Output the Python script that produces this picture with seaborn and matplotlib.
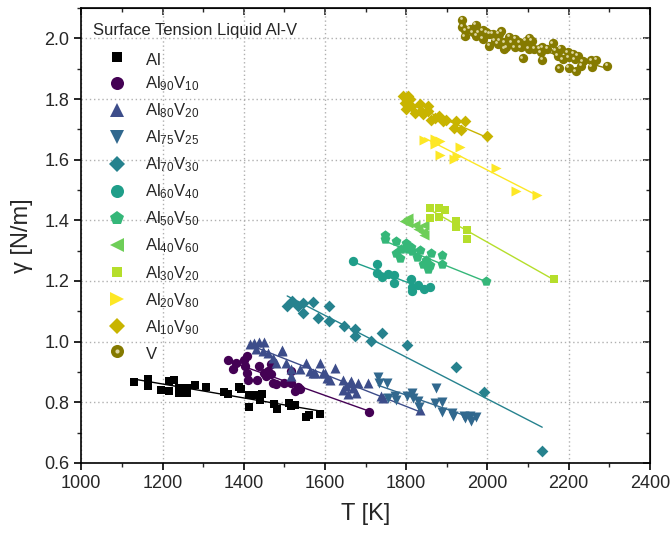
import numpy as np
import pandas as pd
import matplotlib
matplotlib.use('Agg')
from matplotlib import pyplot as plt
from matplotlib.lines import Line2D
from matplotlib.legend_handler import HandlerTuple
from matplotlib.ticker import MultipleLocator
import matplotlib.transforms as mtransforms
import seaborn as sns

# ---- data (T in K, gamma in N/m) ----
labels = [r'Al$_{\,}$', r'Al$_{90}$V$_{10}$', r'Al$_{80}$V$_{20}$', r'Al$_{75}$V$_{25}$',
          r'Al$_{70}$V$_{30}$', r'Al$_{60}$V$_{40}$', r'Al$_{50}$V$_{50}$',
          r'Al$_{40}$V$_{60}$', r'Al$_{30}$V$_{20}$', r'Al$_{20}$V$_{80}$',
          r'Al$_{10}$V$_{90}$', r'V$_{\,}$']

T_al = [1129, 1163, 1163, 1196, 1216, 1228, 1216, 1241, 1241, 1261, 1261, 1280, 1308,
        1351, 1360, 1389, 1394, 1412, 1412, 1431, 1445, 1441, 1474, 1482, 1512, 1516,
        1525, 1553, 1560, 1587]
g_al = [0.866, 0.878, 0.853, 0.842, 0.870, 0.875, 0.837, 0.846, 0.829, 0.846, 0.829,
        0.857, 0.850, 0.835, 0.828, 0.850, 0.845, 0.823, 0.783, 0.823, 0.828, 0.806,
        0.795, 0.778, 0.796, 0.787, 0.790, 0.750, 0.759, 0.762]

T_90 = [1361, 1374, 1382, 1400, 1407, 1403, 1408, 1411, 1433, 1438, 1449, 1456, 1460,
        1468, 1468, 1472, 1480, 1499, 1517, 1516, 1526, 1534, 1538, 1708]
g_90 = [0.939, 0.909, 0.928, 0.939, 0.953, 0.918, 0.898, 0.875, 0.875, 0.918, 0.898,
        0.886, 0.903, 0.892, 0.925, 0.864, 0.859, 0.864, 0.864, 0.903, 0.837, 0.851,
        0.845, 0.768]

T_80 = [1415, 1425, 1438, 1450, 1431, 1448, 1460, 1472, 1493, 1480, 1505, 1517, 1517,
        1538, 1554, 1562, 1575, 1587, 1595, 1604, 1624, 1644, 1653, 1665, 1669, 1495,
        1571, 1600, 1612, 1644, 1661, 1681, 1706, 1657, 1677, 1739, 1743, 1833]
g_80 = [0.992, 0.997, 0.999, 0.999, 0.975, 0.969, 0.964, 0.947, 0.969, 0.931, 0.931,
        0.909, 0.886, 0.909, 0.931, 0.903, 0.898, 0.931, 0.898, 0.881, 0.914, 0.875,
        0.853, 0.870, 0.848, 0.973, 0.898, 0.898, 0.875, 0.842, 0.864, 0.864, 0.864,
        0.826, 0.831, 0.822, 0.815, 0.776]

T_75 = [1731, 1733, 1753, 1755, 1773, 1776, 1802, 1815, 1817, 1829, 1832, 1873, 1870,
        1887, 1887, 1914, 1915, 1942, 1956, 1959, 1973, 1946]
g_75 = [0.883, 0.862, 0.864, 0.815, 0.820, 0.809, 0.820, 0.831, 0.815, 0.803, 0.785,
        0.848, 0.798, 0.800, 0.767, 0.765, 0.756, 0.756, 0.756, 0.737, 0.752, 0.748]

T_70 = [1507, 1520, 1534, 1545, 1545, 1571, 1583, 1609, 1609, 1646, 1675, 1673, 1714,
        1741, 1802, 1922, 1991, 2135]
g_70 = [1.117, 1.135, 1.119, 1.128, 1.094, 1.132, 1.077, 1.117, 1.067, 1.052, 1.041,
        1.019, 1.002, 1.028, 0.988, 0.916, 0.835, 0.640]

T_60 = [1669, 1727, 1727, 1741, 1755, 1770, 1770, 1813, 1815, 1815, 1829, 1845, 1858]
g_60 = [1.265, 1.257, 1.227, 1.213, 1.224, 1.220, 1.194, 1.205, 1.180, 1.168, 1.187,
        1.174, 1.180]

T_50 = [1749, 1749, 1774, 1774, 1788, 1786, 1800, 1804, 1813, 1815, 1826, 1833, 1841,
        1849, 1854, 1858, 1862, 1889, 1889, 1997]
g_50 = [1.353, 1.337, 1.332, 1.292, 1.307, 1.276, 1.326, 1.307, 1.312, 1.298, 1.279,
        1.301, 1.257, 1.268, 1.238, 1.251, 1.292, 1.287, 1.257, 1.200]

T_40 = [1794, 1804, 1804, 1821, 1829, 1845, 1841, 1845]
g_40 = [1.397, 1.406, 1.390, 1.386, 1.373, 1.386, 1.362, 1.353]

T_30 = [1859, 1859, 1882, 1882, 1895, 1923, 1923, 1950, 1950, 2163]
g_30 = [1.439, 1.406, 1.439, 1.412, 1.434, 1.397, 1.379, 1.367, 1.338, 1.207]

T_20 = [1845, 1870, 1872, 1884, 1884, 1919, 1925, 1932, 2020, 2071, 2123]
g_20 = [1.666, 1.669, 1.652, 1.661, 1.614, 1.603, 1.611, 1.641, 1.574, 1.498, 1.482]

T_10 = [1792, 1804, 1810, 1796, 1800, 1813, 1821, 1833, 1837, 1841, 1854, 1854, 1862,
        1870, 1882, 1890, 1899, 1922, 1919, 1935, 1944, 1999]
g_10 = [1.810, 1.810, 1.799, 1.788, 1.766, 1.777, 1.755, 1.782, 1.760, 1.749, 1.777,
        1.760, 1.732, 1.738, 1.744, 1.727, 1.732, 1.727, 1.705, 1.699, 1.727, 1.677]

T_v = [1938, 1938, 1946, 1944, 1956, 1971, 1973, 1979, 1989, 1989, 2005, 2005, 2014,
       2018, 2028, 2034, 2030, 2042, 2042, 2054, 2059, 2067, 2069, 2079, 2083, 2087,
       2095, 2103, 2110, 2102, 2116, 2128, 2135, 2135, 2148, 2161, 2169, 2173, 2177,
       2181, 2186, 2198, 2200, 2200, 2212, 2216, 2218, 2223, 2231, 2235, 2256, 2258,
       2268, 2295, 1964, 1997, 2026, 2047, 2131]
g_v = [2.062, 2.037, 2.026, 2.007, 2.031, 2.044, 2.009, 2.020, 2.026, 1.998, 2.014,
       1.976, 2.014, 1.992, 2.014, 2.023, 1.992, 1.987, 1.965, 2.005, 1.987, 1.970,
       1.998, 1.987, 1.970, 1.934, 1.992, 2.001, 1.992, 1.965, 1.965, 1.965, 1.970,
       1.929, 1.965, 1.984, 1.959, 1.943, 1.901, 1.965, 1.931, 1.954, 1.902, 1.937,
       1.948, 1.931, 1.891, 1.943, 1.909, 1.924, 1.928, 1.906, 1.930, 1.909, 2.020,
       2.020, 1.981, 1.970, 1.954]

temps = [T_al, T_90, T_80, T_75, T_70, T_60, T_50, T_40, T_30, T_20, T_10, T_v]
gammas = [g_al, g_90, g_80, g_75, g_70, g_60, g_50, g_40, g_30, g_20, g_10, g_v]

colors = ['#000000', '#440154', '#3d4d8a', '#31688e', '#26828e', '#1f9e89',
          '#35b779', '#6ece58', '#b5de2b', '#fde725', '#c8b400', '#857a00']
markers = ['s', 'o', '^', 'v', 'D', 'o', 'p', '<', 's', '>', 'D', 'o']
sizes = [32, 45, 52, 52, 36, 45, 55, 52, 32, 52, 36, 45]

df = pd.concat([pd.DataFrame({'T': t, 'g': g, 'alloy': lab})
                for t, g, lab in zip(temps, gammas, labels)], ignore_index=True)

sns.set_style('white')
plt.rcParams['font.family'] = ['Liberation Sans', 'DejaVu Sans']
plt.rcParams['mathtext.fontset'] = 'custom'
plt.rcParams['mathtext.rm'] = 'Liberation Sans'
plt.rcParams['mathtext.it'] = 'Liberation Sans'

fig = plt.figure(figsize=(6.72, 5.37), dpi=100)
ax = fig.add_axes([0.121, 0.138, 0.846, 0.847])

# fit lines first, under the points
for lab, c in zip(labels, colors):
    sns.regplot(x='T', y='g', data=df[df['alloy'] == lab], scatter=False, ci=None,
                truncate=True, ax=ax, line_kws=dict(color=c, lw=1, zorder=2))

for lab, c, m, s in zip(labels, colors, markers, sizes):
    sub = df[df['alloy'] == lab]
    sns.scatterplot(x='T', y='g', data=sub, marker=m, color=c, s=s, linewidth=0,
                    ax=ax, zorder=3)

# glossy highlight for the V spheres
hl = mtransforms.offset_copy(ax.transData, fig=fig, x=-1.2, y=1.2, units='points')
sub = df[df['alloy'] == labels[-1]]
ax.scatter(sub['T'], sub['g'], s=4, color='#ddd6a0', linewidth=0, transform=hl, zorder=4)

ax.set_xlim(1000, 2400)
ax.set_ylim(0.6, 2.1)
ax.xaxis.set_major_locator(MultipleLocator(200))
ax.xaxis.set_minor_locator(MultipleLocator(100))
ax.yaxis.set_major_locator(MultipleLocator(0.2))
ax.yaxis.set_minor_locator(MultipleLocator(0.1))
ax.set_yticks(np.arange(0.6, 2.01, 0.2))
ax.set_yticklabels([f'{v:.1f}' for v in np.arange(0.6, 2.01, 0.2)])
ax.grid(True, which='major', color='#b0b0b0', ls=(0, (1, 2)), lw=1)
ax.tick_params(which='major', direction='out', length=5, width=1.2, labelsize=13,
               color='black', bottom=True, left=True)
ax.tick_params(which='minor', direction='out', length=3, width=1, bottom=True, left=True)
for sp in ax.spines.values():
    sp.set_color('black')
    sp.set_linewidth(1.2)

top = ax.secondary_xaxis('top')
top.xaxis.set_major_locator(MultipleLocator(200))
top.xaxis.set_minor_locator(MultipleLocator(100))
top.tick_params(which='major', direction='in', length=5, width=1.2, labeltop=False)
top.tick_params(which='minor', direction='in', length=3, width=1)
right = ax.secondary_yaxis('right')
right.yaxis.set_major_locator(MultipleLocator(0.2))
right.yaxis.set_minor_locator(MultipleLocator(0.1))
right.tick_params(which='major', direction='in', length=5, width=1.2, labelright=False)
right.tick_params(which='minor', direction='in', length=3, width=1)

ax.set_xlabel('T [K]', fontsize=17, labelpad=8)
ax.set_ylabel('γ [N/m]', fontsize=17, labelpad=8)

handles = []
for lab, c, m, s in zip(labels, colors, markers, sizes):
    h = Line2D([], [], ls='none', marker=m, color=c, markersize=np.sqrt(s) * 1.4, mew=0)
    if lab == labels[-1]:
        h = (h, Line2D([], [], ls='none', marker='o', color='#ddd6a0', markersize=3,
                       mew=0))
    handles.append(h)

ax.text(0.02, 0.951, 'Surface Tension Liquid Al-V', transform=ax.transAxes,
        fontsize=12, ha='left', va='center')
leg = ax.legend(handles, labels, loc='upper left', bbox_to_anchor=(0.0244, 0.905),
                frameon=False, fontsize=12, handlelength=2.6, handletextpad=0.38,
                labelspacing=0.5, borderaxespad=0, borderpad=0,
                handler_map={tuple: HandlerTuple(ndivide=1)})

fig.savefig('out.png', dpi=100)
